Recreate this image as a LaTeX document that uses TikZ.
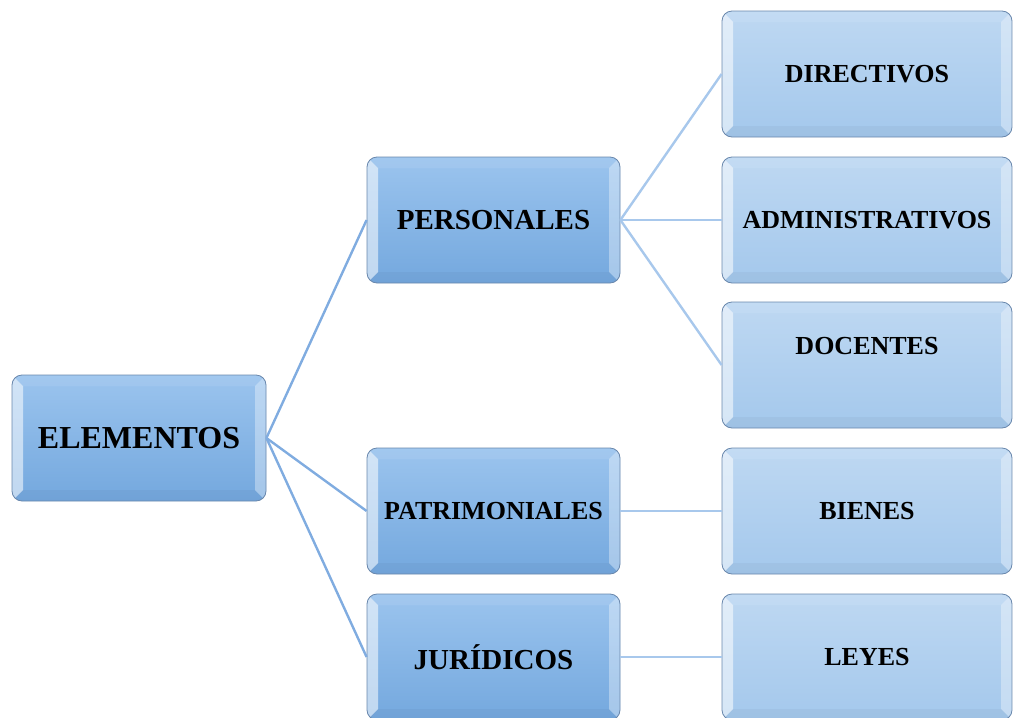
\documentclass[tikz,border=0pt]{standalone}
\usepackage{fontspec}
\setmainfont{Liberation Serif}
\usetikzlibrary{positioning}
\definecolor{topA}{RGB}{155,196,238}
\definecolor{botA}{RGB}{116,168,222}
\definecolor{topB}{RGB}{190,216,242}
\definecolor{botB}{RGB}{164,200,236}
\definecolor{rim}{RGB}{105,135,172}
\definecolor{lnA}{RGB}{128,172,224}
\definecolor{lnB}{RGB}{168,200,236}
\tikzset{bevel/.style={path picture={
    \path (path picture bounding box.north west) coordinate (nw)
          (path picture bounding box.north east) coordinate (ne)
          (path picture bounding box.south west) coordinate (sw)
          (path picture bounding box.south east) coordinate (se);
    \fill[sharp corners,white,opacity=.55] (nw) -- ([shift={(11pt,-11pt)}]nw) -- ([shift={(11pt,11pt)}]sw) -- (sw) -- cycle;
    \fill[sharp corners,white,opacity=.35] (ne) -- ([shift={(-11pt,-11pt)}]ne) -- ([shift={(-11pt,11pt)}]se) -- (se) -- cycle;
    \fill[sharp corners,white,opacity=.08] (nw) -- (ne) -- ([shift={(-11pt,-11pt)}]ne) -- ([shift={(11pt,-11pt)}]nw) -- cycle;
    \fill[sharp corners,black,opacity=.03] (sw) -- (se) -- ([shift={(-11pt,11pt)}]se) -- ([shift={(11pt,11pt)}]sw) -- cycle;
  }}}
\begin{document}
\begin{tikzpicture}[x=1pt,y=-1pt,
    box/.style={draw=rim,line width=0.8pt,rounded corners=10pt,minimum height=126pt,inner sep=0pt,bevel},
    boxa/.style={box,top color=topA,bottom color=botA,minimum width=253pt,font=\bfseries\fontsize{29}{30}\selectfont},
    boxb/.style={box,top color=topB,bottom color=botB,minimum width=290pt,font=\bfseries\fontsize{26}{27}\selectfont},
    lna/.style={lnA,line width=2.4pt},
    lnb/.style={lnB,line width=2.4pt}]
    \clip (0,0) rectangle (1013,718);
    % first level
    \node[boxa,minimum width=254pt,font=\bfseries\fontsize{32}{33}\selectfont] (elem) at (139,438) {ELEMENTOS};
    \node[boxa] (pers) at (493.5,220) {PERSONALES};
    \node[boxa,font=\bfseries\fontsize{26}{27}\selectfont] (patr) at (493.5,511) {PATRIMONIALES};
    \node[boxa] (jur) at (493.5,657) {JURÍDICOS};
    % second level
    \node[boxb] (dir) at (867,74) {DIRECTIVOS};
    \node[boxb] (adm) at (867,220) {ADMINISTRATIVOS};
    \node[boxb,label={[font=\bfseries\fontsize{26}{27}\selectfont,yshift=19pt]center:DOCENTES}] (doc) at (867,365) {};
    \node[boxb] (bien) at (867,511) {BIENES};
    \node[boxb] (ley) at (867,657) {LEYES};
    \foreach \t in {pers,patr,jur}{
      \draw[lna] (elem.east) -- (\t.west);
    }
    \foreach \t in {dir,adm,doc}{
      \draw[lnb] (pers.east) -- (\t.west);
    }
    \draw[lnb] (patr) -- (bien);
    \draw[lnb] (jur) -- (ley);
\end{tikzpicture}
\end{document}
